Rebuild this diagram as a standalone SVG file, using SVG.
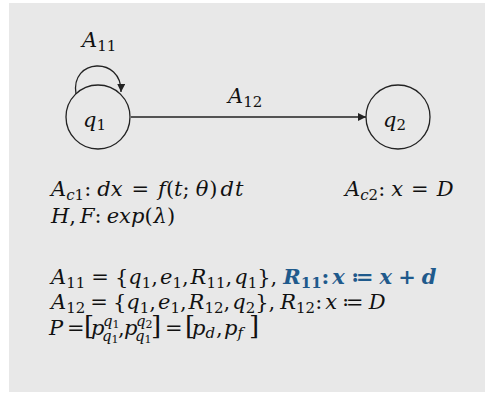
<svg xmlns="http://www.w3.org/2000/svg" width="485" height="396" viewBox="0 0 485 396">
<style>
.m{font-family:"DejaVu Serif","Liberation Serif",serif;font-size:21px;fill:#111}
.i{font-style:italic}
.s{font-size:15px}
.t{font-size:11px}
.node{fill:none;stroke:#222;stroke-width:1.3}
.edge{fill:none;stroke:#222;stroke-width:1.3}
.b{font-weight:bold;fill:#1f5a8c}
</style>
<defs>
<marker id="ah" viewBox="0 0 10 10" refX="10" refY="5" markerWidth="8" markerHeight="8" markerUnits="userSpaceOnUse" orient="auto">
<path d="M0,0 L10,5 L0,10 z" fill="#222"/>
</marker>
</defs>
<rect x="9" y="3" width="476" height="389" fill="#e8e8e8"/>
<g id="connectors">
<path class="edge" d="M76,94 C70,58 122,56 121,92" marker-end="url(#ah)"/>
<line class="edge" x1="131" y1="117" x2="366" y2="117" marker-end="url(#ah)"/>
</g>
<g id="q1">
<circle class="node" cx="98" cy="117" r="32"/>
<text class="m" x="83" y="127"><tspan class="i">q</tspan><tspan class="s" dy="3">1</tspan></text>
</g>
<g id="q2">
<circle class="node" cx="398" cy="117" r="32"/>
<text class="m" x="383" y="127"><tspan class="i">q</tspan><tspan class="s" dy="3">2</tspan></text>
</g>
<g id="labels">
<text class="m" x="82" y="47"><tspan class="i">A</tspan><tspan class="s" dy="4">11</tspan></text>
<text class="m" x="228" y="103"><tspan class="i">A</tspan><tspan class="s" dy="4">12</tspan></text>
<text class="m" x="51" y="196"><tspan class="i">A</tspan><tspan class="s i" dy="4">c</tspan><tspan class="s">1</tspan><tspan dy="-4">:</tspan><tspan class="i" dx="6">d</tspan><tspan class="i">x</tspan><tspan dx="9">=</tspan><tspan class="i" dx="9">f</tspan>(<tspan class="i">t</tspan>;<tspan class="i" dx="6">θ</tspan><tspan dx="1">)</tspan><tspan class="i" dx="3">d</tspan><tspan class="i" dx="1">t</tspan></text>
<text class="m" x="51" y="223"><tspan class="i">H</tspan>,<tspan class="i" dx="4">F</tspan>:<tspan class="i" dx="5">exp</tspan>(<tspan class="i" dx="1">λ</tspan>)</text>
<text class="m" x="345" y="196"><tspan class="i">A</tspan><tspan class="s i" dy="4">c</tspan><tspan class="s">2</tspan><tspan dy="-4">:</tspan><tspan class="i" dx="6">x</tspan><tspan dx="8">=</tspan><tspan class="i" dx="8">D</tspan></text>
<text class="m" x="51" y="284"><tspan class="i">A</tspan><tspan class="s" dy="4">11</tspan><tspan dy="-4" dx="6">=</tspan><tspan dx="6">{</tspan><tspan class="i">q</tspan><tspan class="s" dy="4">1</tspan><tspan dy="-4">,</tspan><tspan class="i" dx="2">e</tspan><tspan class="s" dy="4">1</tspan><tspan dy="-4">,</tspan><tspan class="i" dx="2">R</tspan><tspan class="s" dy="4">11</tspan><tspan dy="-4">,</tspan><tspan class="i" dx="2">q</tspan><tspan class="s" dy="4">1</tspan><tspan dy="-4">},</tspan><tspan class="b i" dx="6">R</tspan><tspan class="b s" dy="4">11</tspan><tspan class="b" dy="-4">:</tspan><tspan class="b i" dx="3">x</tspan><tspan class="b" dx="6">≔</tspan><tspan class="b i" dx="6">x</tspan><tspan class="b" dx="6">+</tspan><tspan class="b i" dx="6">d</tspan></text>
<text class="m" x="51" y="309"><tspan class="i">A</tspan><tspan class="s" dy="4">12</tspan><tspan dy="-4" dx="5">=</tspan><tspan dx="5">{</tspan><tspan class="i">q</tspan><tspan class="s" dy="4">1</tspan><tspan dy="-4">,</tspan><tspan class="i" dx="2">e</tspan><tspan class="s" dy="4">1</tspan><tspan dy="-4">,</tspan><tspan class="i" dx="2">R</tspan><tspan class="s" dy="4">12</tspan><tspan dy="-4">,</tspan><tspan class="i" dx="2">q</tspan><tspan class="s" dy="4">2</tspan><tspan dy="-4">},</tspan><tspan class="i" dx="5">R</tspan><tspan class="s" dy="4">12</tspan><tspan dy="-4">:</tspan><tspan class="i" dx="3">x</tspan><tspan dx="5">≔</tspan><tspan class="i" dx="5">D</tspan></text>
<text class="m" y="335"><tspan class="i" x="49">P</tspan><tspan x="67">=</tspan><tspan x="84" font-size="26">[</tspan><tspan class="i" x="91">p</tspan><tspan class="s i" x="103" y="326">q</tspan><tspan class="t" y="328">1</tspan><tspan class="s i" x="102" y="341">q</tspan><tspan class="t" y="343">1</tspan><tspan x="118" y="335">,</tspan><tspan class="i" x="124">p</tspan><tspan class="s i" x="136" y="326">q</tspan><tspan class="t" y="328">2</tspan><tspan class="s i" x="135" y="341">q</tspan><tspan class="t" y="343">1</tspan><tspan x="151" y="335" font-size="26">]</tspan><tspan x="165">=</tspan><tspan x="185" font-size="26">[</tspan><tspan class="i" x="192">p</tspan><tspan class="s i" y="338">d</tspan><tspan x="216" y="335">,</tspan><tspan class="i" x="224">p</tspan><tspan class="s i" y="338">f</tspan><tspan x="249" y="335" font-size="26">]</tspan></text>
</g>
</svg>
